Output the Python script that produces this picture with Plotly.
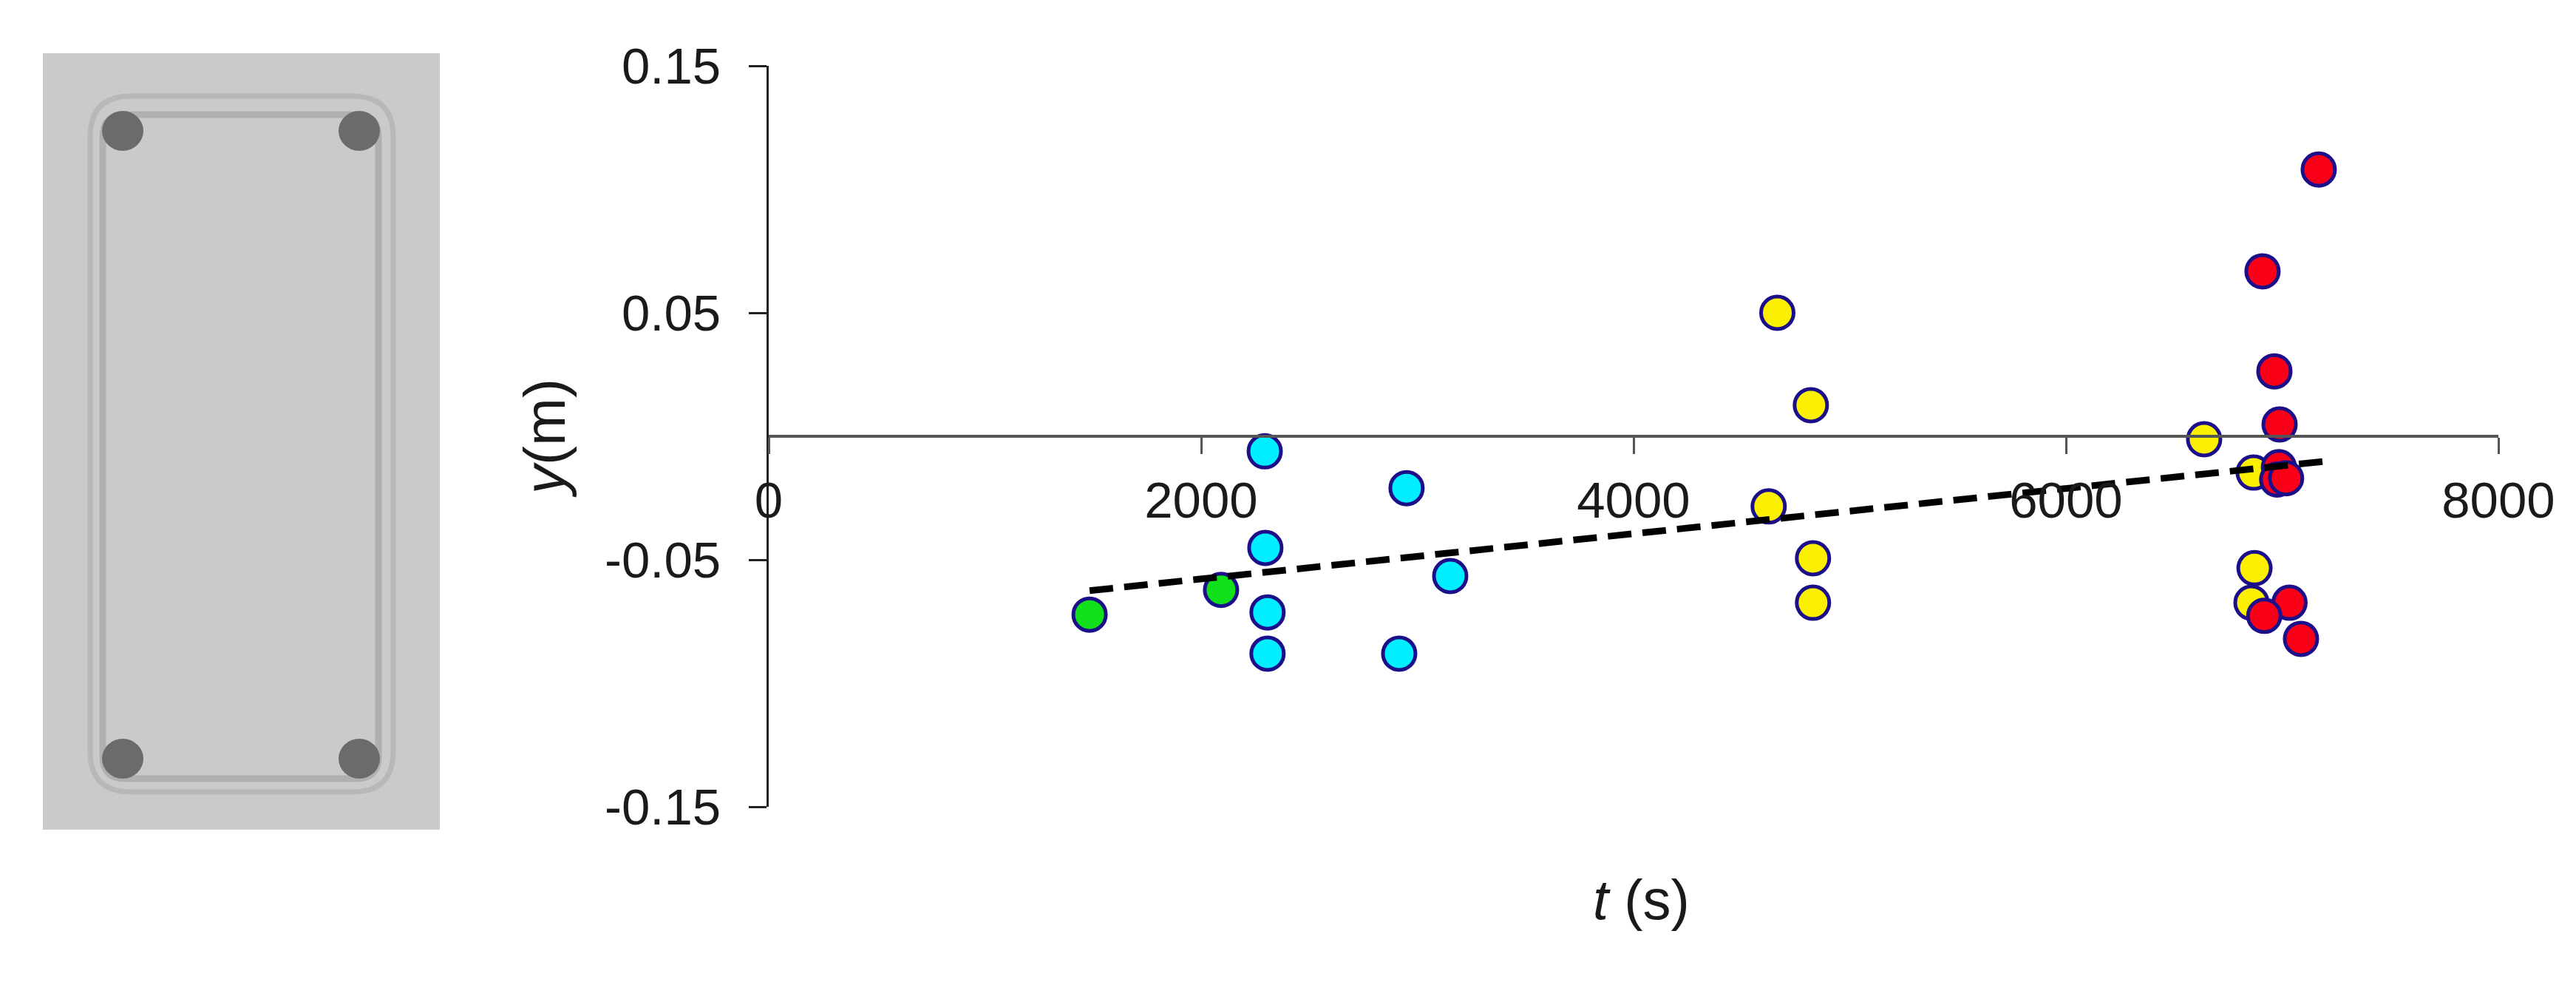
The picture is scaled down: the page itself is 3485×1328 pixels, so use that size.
import plotly.graph_objects as go

# ---------- data ----------
green_t = [1484, 2092]
green_y = [-0.0722, -0.0622]
cyan_t = [2294, 2950, 2297, 3152, 2307, 2307, 2916]
cyan_y = [-0.0061, -0.0210, -0.0452, -0.0566, -0.0713, -0.0880, -0.0880]
yellow_t = [4665, 4820, 4625, 4830, 4830, 6639, 6868, 6872, 6858]
yellow_y = [0.0500, 0.0126, -0.0284, -0.0494, -0.0674, -0.0012, -0.0147, -0.0534, -0.0674]
red_t = [7169, 6909, 6964, 6988, 6985, 6977, 7018, 7034, 6917, 7087]
red_y = [0.1080, 0.0668, 0.0263, 0.0048, -0.0125, -0.0175, -0.0170, -0.0674, -0.0727, -0.0820]
trend_t = [1484, 7192]
trend_y = [-0.0625, -0.0102]

x_ticks = [0, 2000, 4000, 6000, 8000]
x_labels = ["0", "2000", "4000", "6000", "8000"]
y_ticks = [0.15, 0.05, -0.05, -0.15]
y_labels = ["0.15", "0.05", "-0.05", "-0.15"]

W, H = 3485, 1328
FONT = "Liberation Sans, Arial, sans-serif"
TXT = "#1a1a1a"
EDGE = "#1c0f8a"


def px(v):
    return v / W


def py(v):
    return 1 - v / H


def rrect_path(x0, y0, x1, y1, r):
    a, b, c, d = px(x0), px(x1), py(y0), py(y1)
    rx, ry = r / W, r / H
    return (
        f"M {a + rx} {c} L {b - rx} {c} Q {b} {c} {b} {c - ry} "
        f"L {b} {d + ry} Q {b} {d} {b - rx} {d} "
        f"L {a + rx} {d} Q {a} {d} {a} {d + ry} "
        f"L {a} {c - ry} Q {a} {c} {a + rx} {c} Z"
    )


shapes = [
    dict(type="rect", xref="paper", yref="paper", x0=px(58), x1=px(595), y0=py(72), y1=py(1122),
         fillcolor="#cacaca", line_width=0, layer="below"),
    dict(type="path", xref="paper", yref="paper", path=rrect_path(122, 130, 532, 1071, 55),
         line=dict(color="#b8b8b8", width=7), layer="below"),
    dict(type="path", xref="paper", yref="paper", path=rrect_path(139, 155, 512, 1053, 30),
         line=dict(color="#b0b0b0", width=9), layer="below"),
]
for cx in (166, 486):
    for cy in (177, 1026):
        shapes.append(dict(type="circle", xref="paper", yref="paper",
                           x0=px(cx - 28), x1=px(cx + 28), y0=py(cy - 27), y1=py(cy + 27),
                           fillcolor="#6b6b6b", line_width=0, layer="below"))


def pts(t, y, colour, name):
    return go.Scatter(x=t, y=y, mode="markers", name=name, showlegend=False,
                      marker=dict(size=44, color=colour, line=dict(color=EDGE, width=5)))


fig = go.Figure([
    pts(green_t, green_y, "#12e01a", "green"),
    pts(cyan_t, cyan_y, "#00eeff", "cyan"),
    pts(yellow_t, yellow_y, "#fbf000", "yellow"),
    pts(red_t, red_y, "#fa0018", "red"),
    go.Scatter(x=trend_t, y=trend_y, mode="lines", showlegend=False, name="trend",
               line=dict(color="#000000", width=9, dash="32px,15px")),
])

fig.update_layout(
    width=W, height=H, margin=dict(l=0, r=0, t=0, b=0, autoexpand=False),
    paper_bgcolor="white", plot_bgcolor="white", showlegend=False,
    font=dict(family=FONT, size=69, color=TXT),
    shapes=shapes,
    xaxis=dict(
        domain=[px(1040), px(3380)], range=[0, 8000], anchor="free", position=py(590),
        tickmode="array", tickvals=x_ticks, ticktext=x_labels, automargin=False,
        ticks="outside", ticklen=22, tickwidth=3, tickcolor="#555555",
        showline=True, linecolor="#555555", linewidth=4,
        showgrid=False, zeroline=False,
        tickfont=dict(family=FONT, size=69, color=TXT),
        ticklabelstandoff=3,
    ),
    yaxis=dict(
        domain=[py(1091), py(89)], range=[-0.15, 0.15], automargin=False,
        tickmode="array", tickvals=y_ticks, ticktext=y_labels,
        ticks="outside", ticklen=24, tickwidth=3, tickcolor="#222222",
        showline=True, linecolor="#222222", linewidth=3,
        showgrid=False, zeroline=False,
        tickfont=dict(family=FONT, size=69, color=TXT),
        ticklabelstandoff=24,
    ),
    annotations=[
        dict(xref="paper", yref="paper", x=px(2220), y=py(1216), text="<i>t</i> (s)", showarrow=False,
             xanchor="center", yanchor="middle", font=dict(family=FONT, size=76, color=TXT)),
        dict(xref="paper", yref="paper", x=px(737), y=py(593), text="<i>y</i>(m)", showarrow=False,
             textangle=-90, xanchor="center", yanchor="middle", font=dict(family=FONT, size=78, color=TXT)),
    ],
)

fig.write_html("out.html", config={"displayModeBar": False},
               post_script="document.body.style.margin='0';document.body.style.overflow='hidden';")
